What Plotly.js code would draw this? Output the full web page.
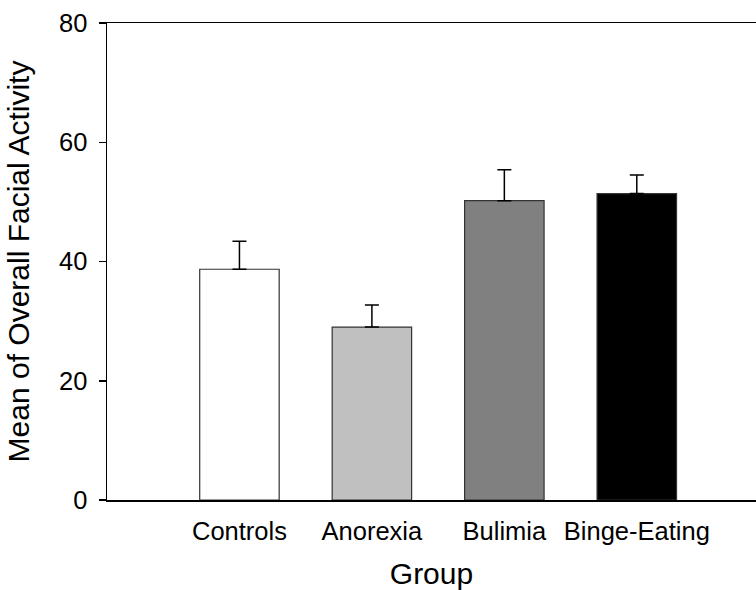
<!DOCTYPE html>
<html>
<head>
<meta charset="utf-8">
<script src="https://cdn.plot.ly/plotly-3.0.1.min.js"></script>
<style>
  html, body { margin: 0; padding: 0; background: #fff; }
  #chart { width: 756px; height: 590px; }
</style>
</head>
<body>
<div id="chart"></div>
<script>
// Group means and upper standard-error bars
const groups = ["Controls", "Anorexia", "Bulimia", "Binge-Eating"];
const means = [38.7, 29.0, 50.2, 51.4];
const errors = [4.7, 3.7, 5.2, 3.1];
const barColors = ["#ffffff", "#c0c0c0", "#808080", "#000000"];
const yTicks = [0, 20, 40, 60, 80];

const FONT = "Liberation Sans, Arial, sans-serif";

const trace = {
  type: "bar",
  x: groups,
  y: means,
  width: 0.6,
  marker: {
    color: barColors,
    line: { color: "#333333", width: 1.2 }
  },
  error_y: {
    type: "data",
    symmetric: false,
    array: errors,
    arrayminus: groups.map(() => 0),
    color: "#000000",
    thickness: 1.5,
    width: 7
  },
  hoverinfo: "x+y"
};

const layout = {
  width: 756,
  height: 590,
  margin: { l: 107, r: 0, t: 23, b: 90 },
  paper_bgcolor: "#ffffff",
  plot_bgcolor: "#ffffff",
  showlegend: false,
  font: { family: FONT, color: "#000000" },
  xaxis: {
    type: "category",
    range: [-1, 3.9],
    showline: true,
    linecolor: "#000000",
    linewidth: 1.5,
    mirror: true,
    showgrid: false,
    zeroline: false,
    ticks: "",
    ticklabelstandoff: 8,
    tickfont: { family: FONT, size: 25.5 },
    title: { text: "Group", font: { family: FONT, size: 30 }, standoff: 21 }
  },
  yaxis: {
    range: [0, 80],
    tickvals: yTicks,
    ticktext: yTicks.map(String),
    showline: true,
    linecolor: "#000000",
    linewidth: 1.5,
    mirror: false,
    showgrid: false,
    zeroline: false,
    ticks: "outside",
    ticklen: 7,
    tickwidth: 1.5,
    tickcolor: "#000000",
    ticklabelstandoff: 6,
    tickfont: { family: FONT, size: 25.5 },
    title: { text: "Mean of Overall Facial Activity", font: { family: FONT, size: 30 }, standoff: 20 }
  }
};

Plotly.newPlot("chart", [trace], layout, { displayModeBar: false, staticPlot: true });
</script>
</body>
</html>
